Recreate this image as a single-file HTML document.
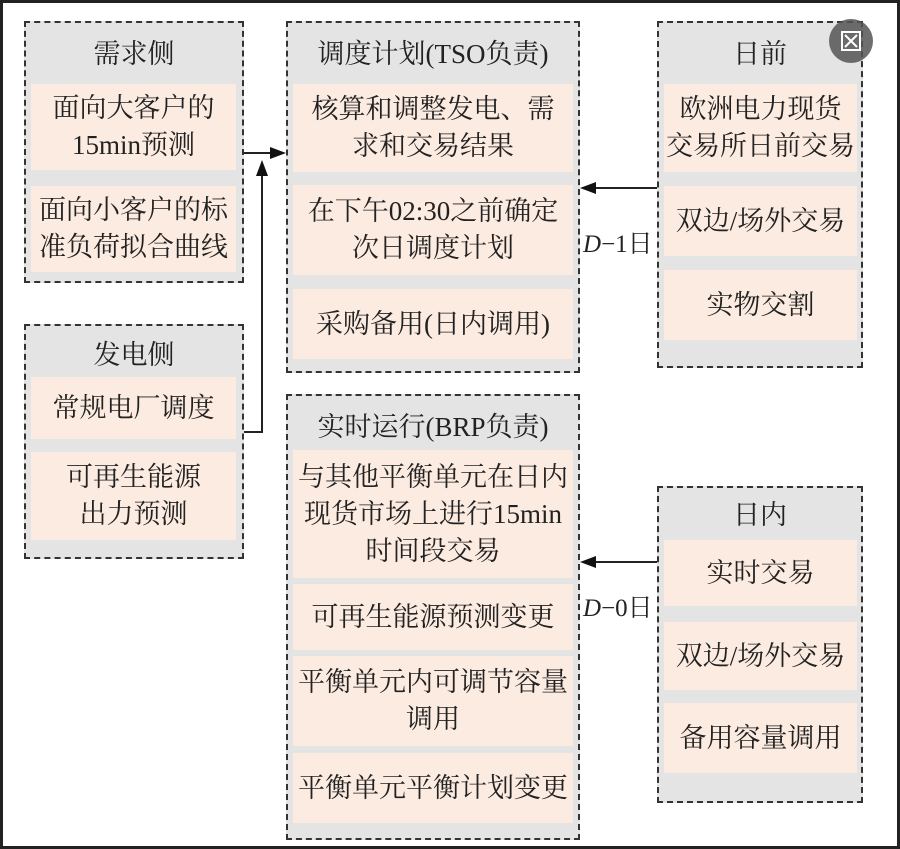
<!DOCTYPE html>
<html><head><meta charset="utf-8">
<style>
html,body{margin:0;padding:0;background:#fff;}
#c{position:relative;width:900px;height:849px;overflow:hidden;background:#fff;
font-family:"Liberation Serif","Noto Serif CJK SC",serif;color:#222;}
.frame{position:absolute;left:0;top:0;width:894px;height:843px;border:3px solid #222;}
.g{position:absolute;background:#e4e4e4;border:2px dashed #333;box-sizing:border-box;}
.t{position:absolute;left:0;right:0;text-align:center;font-size:27px;line-height:30px;}
.i{position:absolute;background:#fcebe0;display:flex;align-items:center;justify-content:center;
text-align:center;font-size:27px;line-height:37px;white-space:nowrap;}
.lbl{position:absolute;font-size:25px;}
</style></head><body><div id="c">
<div class="frame"></div>

<div class="g" style="left:24px;top:21px;width:220px;height:262px;">
 <div class="t" style="top:16px">需求侧</div>
</div>
<div class="i" style="left:31px;top:84px;width:205px;height:86px;">面向大客户的<br>15min预测</div>
<div class="i" style="left:31px;top:186px;width:205px;height:86px;">面向小客户的标<br>准负荷拟合曲线</div>

<div class="g" style="left:24px;top:324px;width:220px;height:235px;">
 <div class="t" style="top:14px">发电侧</div>
</div>
<div class="i" style="left:31px;top:377px;width:205px;height:62px;">常规电厂调度</div>
<div class="i" style="left:31px;top:452px;width:205px;height:88px;">可再生能源<br>出力预测</div>

<div class="g" style="left:286px;top:21px;width:294px;height:352px;">
 <div class="t" style="top:16px">调度计划(TSO负责)</div>
</div>
<div class="i" style="left:293px;top:84px;width:280px;height:88px;">核算和调整发电、需<br>求和交易结果</div>
<div class="i" style="left:293px;top:185px;width:280px;height:90px;">在下午02:30之前确定<br>次日调度计划</div>
<div class="i" style="left:293px;top:289px;width:280px;height:70px;">采购备用(日内调用)</div>

<div class="g" style="left:286px;top:394px;width:294px;height:446px;">
 <div class="t" style="top:16px">实时运行(BRP负责)</div>
</div>
<div class="i" style="left:293px;top:450px;width:280px;height:128px;">与其他平衡单元在日内<br>现货市场上进行15min<br>时间段交易</div>
<div class="i" style="left:293px;top:584px;width:280px;height:66px;">可再生能源预测变更</div>
<div class="i" style="left:293px;top:656px;width:280px;height:90px;">平衡单元内可调节容量<br>调用</div>
<div class="i" style="left:293px;top:753px;width:280px;height:70px;">平衡单元平衡计划变更</div>

<div class="g" style="left:657px;top:21px;width:206px;height:347px;">
 <div class="t" style="top:16px">日前</div>
</div>
<div class="i" style="left:664px;top:84px;width:193px;height:88px;">欧洲电力现货<br>交易所日前交易</div>
<div class="i" style="left:664px;top:186px;width:193px;height:70px;">双边/场外交易</div>
<div class="i" style="left:664px;top:270px;width:193px;height:70px;">实物交割</div>

<div class="g" style="left:657px;top:486px;width:206px;height:317px;">
 <div class="t" style="top:12px">日内</div>
</div>
<div class="i" style="left:664px;top:540px;width:193px;height:66px;">实时交易</div>
<div class="i" style="left:664px;top:622px;width:193px;height:68px;">双边/场外交易</div>
<div class="i" style="left:664px;top:703px;width:193px;height:70px;">备用容量调用</div>

<svg style="position:absolute;left:0;top:0" width="900" height="849">
 <g stroke="#222" stroke-width="2" fill="none">
  <line x1="244" y1="153" x2="272" y2="153"/>
  <polyline points="244,432 262,432 262,172"/>
  <line x1="657" y1="188" x2="594" y2="188"/>
  <line x1="657" y1="562" x2="594" y2="562"/>
 </g>
 <g fill="#111">
  <polygon points="286,153 270,147 270,159"/>
  <polygon points="262,160 256,176 268,176"/>
  <polygon points="580,188 596,182 596,194"/>
  <polygon points="580,562 596,556 596,568"/>
 </g>
 <circle cx="851" cy="41" r="22" fill="#555" opacity="0.85"/>
 <rect x="842" y="32" width="18" height="18" fill="none" stroke="#fff" stroke-width="2"/>
 <line x1="845" y1="35" x2="857" y2="47" stroke="#fff" stroke-width="2"/>
 <line x1="857" y1="35" x2="845" y2="47" stroke="#fff" stroke-width="2"/>
</svg>
<div class="lbl" style="left:583px;top:224px;"><i>D</i>−1日</div>
<div class="lbl" style="left:583px;top:588px;"><i>D</i>−0日</div>
</div></body></html>
